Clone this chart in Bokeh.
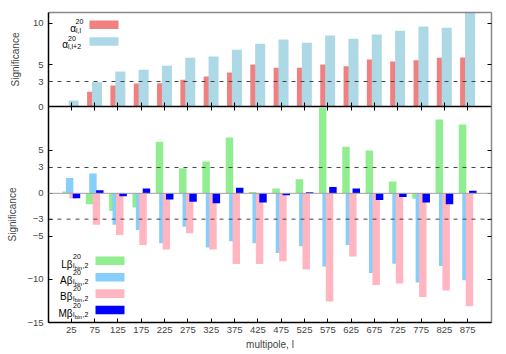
from bokeh.plotting import figure
from bokeh.layouts import column
from bokeh.models import (ColumnDataSource, Range1d, FixedTicker, LinearAxis, Span,
                          Label, BoxAnnotation)
from bokeh.transform import dodge
from bokeh.embed import file_html
from bokeh.resources import INLINE

# ---------------- data ----------------
multipole = [25, 75, 125, 175, 225, 275, 325, 375, 425, 475,
             525, 575, 625, 675, 725, 775, 825, 875]
alpha_ll = [0.05, 1.76, 2.52, 2.76, 2.8, 3.2, 3.6, 4.08, 5.04, 4.64,
            4.64, 5.04, 4.84, 5.64, 5.4, 5.56, 5.84, 5.88]
alpha_ll2 = [0.72, 2.92, 4.2, 4.4, 4.88, 5.84, 6.0, 6.8, 7.54, 8.04,
             7.64, 8.52, 8.12, 8.64, 9.08, 9.6, 9.44, 11.5]
L_beta = [0.22, -1.28, -2.05, -1.66, 5.98, 2.9, 3.69, 6.48, 0.15, 0.55,
          1.63, 9.9, 5.4, 4.97, 1.36, -0.62, 8.57, 7.99]
A_beta = [1.79, 2.29, -3.64, -4.26, -5.81, -3.87, -6.28, -5.58, -5.81, -6.93,
          -6.16, -8.49, -6.0, -9.26, -8.17, -10.35, -8.44, -10.1]
B_beta = [-0.6, -3.64, -4.84, -6.0, -6.51, -4.65, -6.51, -8.21, -8.21, -7.9,
          -8.84, -12.56, -7.33, -10.65, -10.47, -12.05, -11.28, -13.1]
M_beta = [-0.58, 0.35, -0.35, 0.55, -0.73, -0.97, -1.16, 0.66, -1.08, -0.23,
          0.12, 0.74, 0.55, -0.77, -0.42, -1.08, -1.28, 0.31]

top_yticks = [0, 3, 5, 10]
bot_yticks = [-15, -10, -5, -3, 0, 3, 5]
thresholds_top = [3]
thresholds_bot = [3, -3]

FONT = "Liberation Sans"
C_RED, C_LBLUE = "#F08080", "#ADD8E6"
C_GREEN, C_SKY, C_PINK, C_BLUE = "#90EE90", "#87CEFA", "#FFB6C1", "#0000FF"

src = ColumnDataSource(dict(l=multipole, a=alpha_ll, a2=alpha_ll2,
                            L=L_beta, A=A_beta, B=B_beta, M=M_beta))

X_RANGE = (-24, 926)
W = 506
ML, MR = 48, 15
OVERLAP = 6


def blank_axis(ticks, tick_in, line_color, show_ticks=True):
    return LinearAxis(ticker=FixedTicker(ticks=ticks),
                      major_label_overrides={t: "" for t in ticks},
                      major_label_text_font_size="0px", major_label_standoff=0,
                      major_tick_in=tick_in if show_ticks else 0, major_tick_out=0,
                      major_tick_line_color="black" if show_ticks else None,
                      minor_tick_line_color=None, axis_line_color=line_color,
                      axis_line_width=1.5)


def style_axes(p, yticks, ylabel_standoff, show_xlabels):
    p.xgrid.visible = False
    p.ygrid.visible = False
    p.outline_line_color = None
    yl = p.yaxis[0]
    yl.ticker = FixedTicker(ticks=yticks)
    yl.axis_label = "Significance"
    yl.axis_label_text_font = FONT
    yl.axis_label_text_font_size = "10px"
    yl.axis_label_text_font_style = "normal"
    yl.axis_label_standoff = ylabel_standoff
    yl.major_label_text_font = FONT
    yl.major_label_text_font_size = "9.5px"
    yl.major_label_standoff = 5
    yl.major_tick_in = 4
    yl.major_tick_out = 0
    yl.minor_tick_line_color = None
    yl.axis_line_color = "black"
    yl.axis_line_width = 1.5
    xb = p.xaxis[0]
    xb.ticker = FixedTicker(ticks=multipole)
    xb.major_tick_in = 4
    xb.major_tick_out = 0
    xb.minor_tick_line_color = None
    xb.axis_line_color = "black"
    xb.axis_line_width = 1.5
    if show_xlabels:
        xb.major_label_text_font = FONT
        xb.major_label_text_font_size = "9.5px"
        xb.major_label_standoff = 4
        xb.axis_label = "multipole, l"
        xb.axis_label_text_font = FONT
        xb.axis_label_text_font_size = "10px"
        xb.axis_label_text_font_style = "normal"
        xb.axis_label_standoff = 3
    else:
        xb.major_label_overrides = {t: "" for t in multipole}
        xb.major_label_text_font_size = "0px"
        xb.major_label_standoff = 0
    p.add_layout(blank_axis(yticks, 4, "#888888"), "right")


# ---------------- top panel ----------------
top = figure(width=W, height=106 + OVERLAP, x_range=Range1d(*X_RANGE), y_range=Range1d(0, 11.28),
             output_backend="svg", toolbar_location=None,
             min_border_left=ML, min_border_right=MR, min_border_top=12,
             min_border_bottom=OVERLAP)
style_axes(top, top_yticks, 9, False)
top.add_layout(blank_axis(multipole, 0, "#888888", show_ticks=False), "above")

top.vbar(x=dodge("l", -5.5, range=top.x_range), top="a", width=21.5, bottom=0,
         source=src, fill_color=C_RED, line_color=None)
top.vbar(x=dodge("l", 5.0, range=top.x_range), top="a2", width=21.5, bottom=0,
         source=src, fill_color=C_LBLUE, line_color=None)
for t in thresholds_top:
    top.add_layout(Span(location=t, dimension="width", line_color="#444444",
                        line_dash="4 5", line_width=1))

# ---------------- bottom panel ----------------
bot = figure(width=W, height=248, x_range=Range1d(*X_RANGE), y_range=Range1d(-15, 10.08),
             output_backend="svg", toolbar_location=None,
             min_border_left=ML, min_border_right=MR, min_border_top=0, min_border_bottom=32,
             styles={"margin-top": f"-{OVERLAP}px"})
bot.border_fill_alpha = 0
style_axes(bot, bot_yticks, 6, True)
bot.add_layout(blank_axis(multipole, 4, "black"), "above")

bot.add_layout(Span(location=0, dimension="width", line_color="#a0a0a0", line_width=1))
for col, off, c in (("L", -11, C_GREEN), ("A", -3.7, C_SKY), ("B", 3.7, C_PINK), ("M", 11, C_BLUE)):
    bot.vbar(x=dodge("l", off, range=bot.x_range), top=col, bottom=0, width=16,
             source=src, fill_color=c, line_color=None)
for t in thresholds_bot:
    bot.add_layout(Span(location=t, dimension="width", line_color="#444444",
                        line_dash="4 5", line_width=1))


def txt(p, fb, px, py, s, size, align="left"):
    p.add_layout(Label(x=px - ML, y=fb - py, x_units="screen", y_units="screen",
                       text=s, text_font=FONT, text_font_size=f"{size}px",
                       text_align=align, text_baseline="alphabetic", text_color="black"))


def swatch(p, fb, x0, x1, y0, y1, color):
    p.add_layout(BoxAnnotation(left=x0 - ML, right=x1 - ML,
                               top=fb - y0, bottom=fb - y1,
                               left_units="screen", right_units="screen",
                               top_units="screen", bottom_units="screen",
                               fill_color=color, fill_alpha=1, line_color=None))


# top legend (frame bottom at page y 106)
FB_TOP = 106
txt(top, FB_TOP, 75.5, 27.5, "α", 10, "right")
txt(top, FB_TOP, 75, 21, "20", 7)
txt(top, FB_TOP, 75.5, 29.8, "l,l", 7)
swatch(top, FB_TOP, 89, 118, 20, 28.5, C_RED)
txt(top, FB_TOP, 67.5, 43.5, "α", 10, "right")
txt(top, FB_TOP, 67.5, 37.5, "20", 7)
txt(top, FB_TOP, 67.5, 46.3, "l,l+2", 7)
swatch(top, FB_TOP, 89, 118, 36.7, 45.2, C_LBLUE)

# bottom legend (frame bottom at page y 322)
FB_BOT = 322
names = ["Lβ", "Aβ", "Bβ", "Mβ"]
cols = [C_GREEN, C_SKY, C_PINK, C_BLUE]
for i, (n, c) in enumerate(zip(names, cols)):
    dy = 16.4 * i
    txt(bot, FB_BOT, 72, 263.5 + dy, n, 10, "right")
    txt(bot, FB_BOT, 72.5, 255.5 + dy, "20", 7)
    txt(bot, FB_BOT, 72.5, 265 + dy, "l", 7)
    txt(bot, FB_BOT, 74.3, 267 + dy, "bin", 5.5)
    txt(bot, FB_BOT, 82, 265 + dy, ",2", 7)
    swatch(bot, FB_BOT, 95, 124, 256 + dy, 264.6 + dy, c)

layout = column(top, bot, spacing=0)
open("out.html", "w").write(file_html(layout, INLINE))
